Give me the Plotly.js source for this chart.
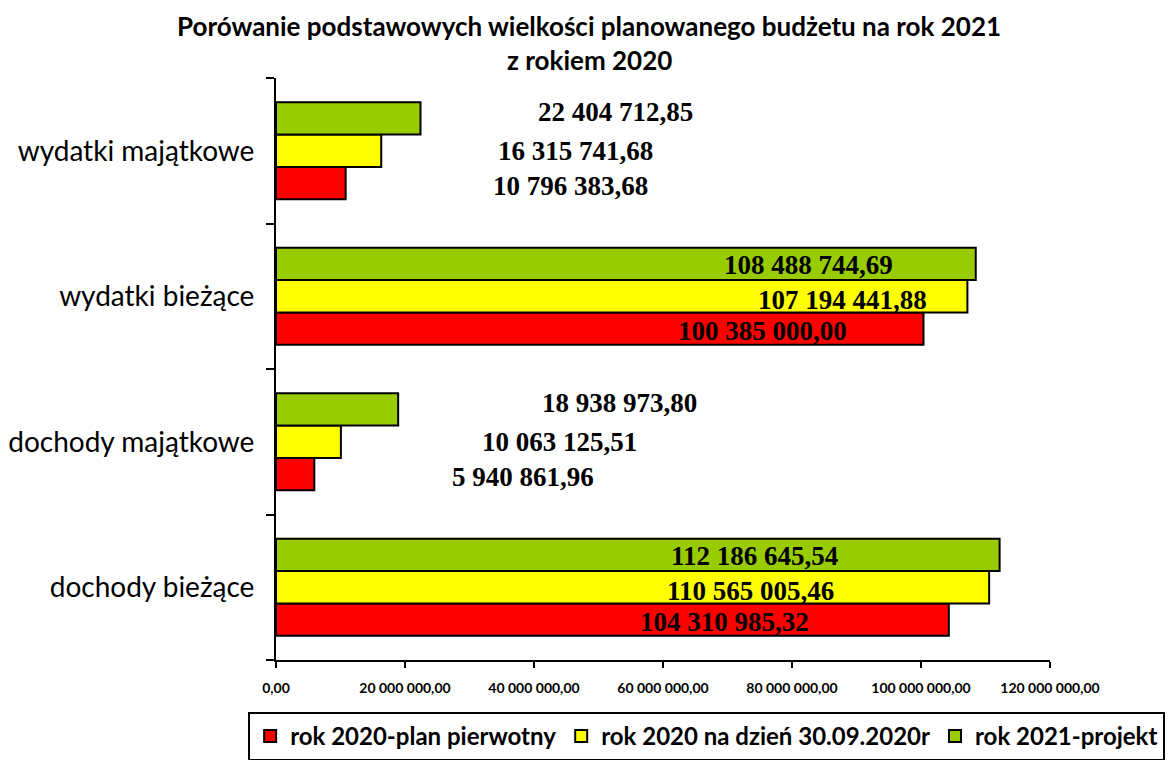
<!DOCTYPE html>
<html>
<head>
<meta charset="utf-8">
<script src="https://cdn.plot.ly/plotly-3.0.1.min.js"></script>
<style>html,body{margin:0;padding:0;background:#fff;}#chart{width:1168px;height:760px;}</style>
</head>
<body>
<div id="chart"></div>
<script>
const categories = ['dochody bieżące', 'dochody majątkowe', 'wydatki bieżące', 'wydatki majątkowe'];
const seriesNames = ['rok 2020-plan pierwotny', 'rok 2020 na dzień 30.09.2020r', 'rok 2021-projekt'];
const plan2020 = [104310985.32, 5940861.96, 100385000.00, 10796383.68];
const stan2020 = [110565005.46, 10063125.51, 107194441.88, 16315741.68];
const projekt2021 = [112186645.54, 18938973.80, 108488744.69, 22404712.85];
const tickValues = [0, 20000000, 40000000, 60000000, 80000000, 100000000, 120000000];
const tickLabels = ['0,00', '20 000 000,00', '40 000 000,00', '60 000 000,00', '80 000 000,00', '100 000 000,00', '120 000 000,00'];
const titleLines = ['Porówanie podstawowych wielkości planowanego budżetu na rok 2021', 'z rokiem 2020'];

// label placement (as in the original chart)
const labelX = [
  [69.5e6, 38.3e6, 75.5e6, 45.7e6],
  [73.5e6, 44.0e6, 87.8e6, 46.5e6],
  [74.2e6, 53.3e6, 82.5e6, 52.6e6]
];
const labelShift = [
  [-3, -3, -3, -3],
  [-4, 0, -4, 0],
  [-1, 7, -1, 7]
];

const colors = ['#ff0000', '#ffff00', '#99cc00'];
const series = [plan2020, stan2020, projekt2021];

function fmt(v) {
  const s = v.toFixed(2);
  let [i, d] = s.split('.');
  i = i.replace(/\B(?=(\d{3})+(?!\d))/g, ' ');
  return i + ',' + d;
}

const sans = "Lato, 'Open Sans', sans-serif";
const times = "'Liberation Serif', 'Times New Roman', serif";

const traces = series.map((vals, k) => ({
  type: 'bar',
  orientation: 'h',
  name: seriesNames[k],
  x: vals,
  y: categories,
  marker: {color: colors[k], line: {color: '#000', width: 2}},
  hoverinfo: 'x+name'
}));

const annotations = [];
series.forEach((vals, k) => {
  vals.forEach((v, j) => {
    annotations.push({
      xref: 'x', yref: 'y',
      x: labelX[k][j], y: categories[j],
      yshift: (k - 1) * 32 + labelShift[k][j],
      text: fmt(v),
      showarrow: false,
      font: {family: times, size: 27, color: '#000', weight: 'bold'},
      xanchor: 'center', yanchor: 'middle'
    });
  });
});
titleLines.forEach((t, i) => {
  annotations.push({
    xref: 'paper', yref: 'paper',
    x: 0.405, y: [1.089, 1.031][i],
    xanchor: 'center', yanchor: 'middle',
    text: '<b>' + t + '</b>', showarrow: false,
    font: {family: sans, size: 26, color: '#000'}
  });
});

const layout = {
  width: 1168, height: 760,
  paper_bgcolor: '#fff', plot_bgcolor: '#fff',
  margin: {l: 276, r: 118, t: 78, b: 100, autoexpand: false},
  barmode: 'group',
  bargap: 0.333,
  bargroupgap: 0,
  xaxis: {
    range: [0, 120000000],
    tickvals: tickValues, ticktext: tickLabels,
    tickfont: {family: sans, size: 14, color: '#000', weight: 'bold'},
    showgrid: false, zeroline: false,
    showline: true, linecolor: '#000', linewidth: 2,
    ticks: 'outside', ticklen: 6, tickwidth: 2, tickcolor: '#000',
    ticklabelstandoff: 8, automargin: false
  },
  yaxis: {
    type: 'category',
    tickson: 'boundaries',
    tickfont: {family: sans, size: 28, color: '#000'},
    showgrid: false, zeroline: false,
    showline: true, linecolor: '#000', linewidth: 2,
    ticks: 'outside', ticklen: 8, tickwidth: 2, tickcolor: '#000',
    ticklabelstandoff: 14, automargin: false
  },
  showlegend: true,
  legend: {
    orientation: 'h',
    x: -0.036, xanchor: 'left', y: -0.089, yanchor: 'top',
    font: {family: sans, size: 24, color: '#000', weight: 'bold'},
    bordercolor: '#000', borderwidth: 2, bgcolor: '#fff',
    traceorder: 'normal', itemwidth: 30
  },
  annotations: annotations
};

Plotly.newPlot('chart', traces, layout, {displayModeBar: false, staticPlot: true});
</script>
</body>
</html>
